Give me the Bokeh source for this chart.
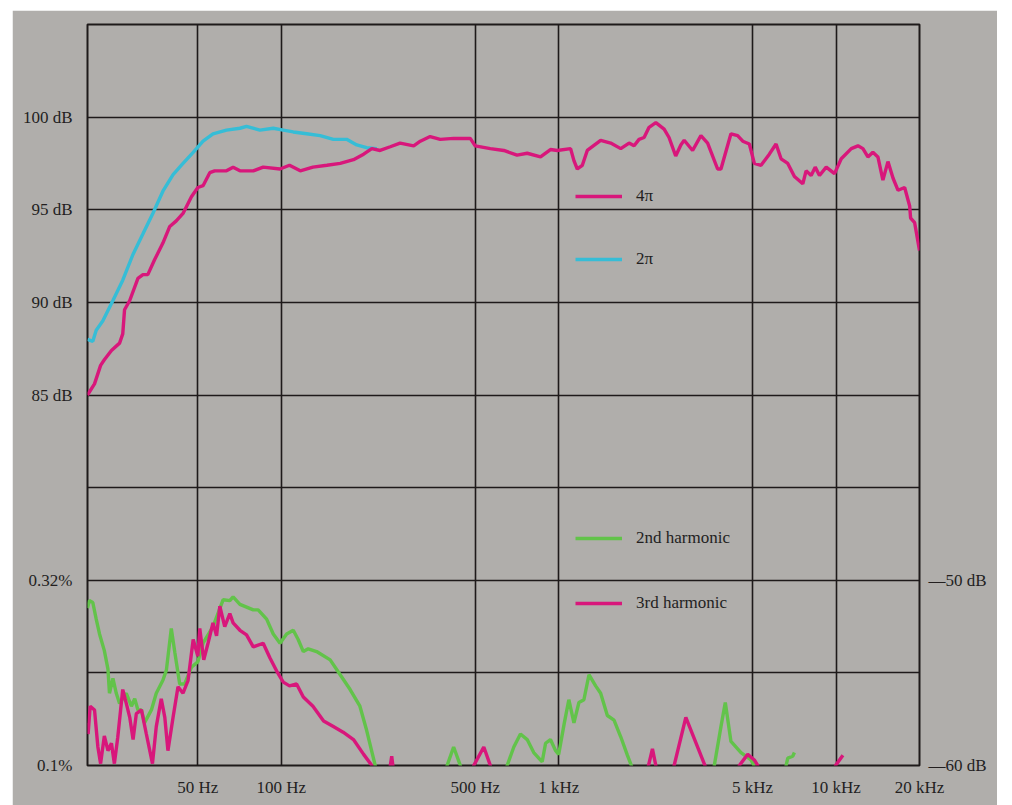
from bokeh.plotting import figure
from bokeh.models import Range1d, LinearAxis, FixedTicker, Legend, LegendItem
from bokeh.embed import file_html
from bokeh.resources import INLINE

# ---------------- data ----------------
X_TICKS = [50, 100, 500, 1000, 5000, 10000, 20000]
X_LABELS = ["50 Hz", "100 Hz", "500 Hz", "1 kHz", "5 kHz", "10 kHz", "20 kHz"]
X_GRID = [20, 50, 100, 500, 1000, 5000, 10000, 20000]

Y_TICKS = [100, 95, 90, 85, 75, 65]
Y_LABELS = ["100 dB", "95 dB", "90 dB", "85 dB", "0.32%", "0.1%"]
Y_GRID = [70, 75, 80, 85, 90, 95, 100]

R_TICKS = [-50, -60]
R_LABELS = ["\u201450 dB", "\u201460 dB"]

# Frequency response, 4 pi (full space)
HZ_4PI = [20, 21.2, 22.3, 23.0, 24.4, 26.1, 26.8, 27.2, 28.4, 30.4,
          31.7, 33.0, 34.9, 37.4, 39.6, 41.8, 44.2, 47.4, 50, 52.2,
          55.2, 57.5, 63.4, 67.0, 70.9, 79.2, 86.0, 98.9, 107, 117,
          130, 146, 163, 182, 198, 212, 227, 247, 268, 300,
          317, 344, 374, 418, 480, 500, 567, 634, 708, 770,
          860, 934, 988, 1104, 1135, 1167, 1217, 1268, 1417, 1540,
          1674, 1794, 1870, 1949, 2032, 2118, 2240, 2400, 2500, 2642,
          2757, 2835, 3040, 3257, 3444, 3742, 3847, 4180, 4418, 4610,
          4870, 5076, 5366, 5748, 6078, 6337, 6700, 7080, 7590, 7800,
          8135, 8414, 8718, 9218, 9878, 10443, 11350, 12000, 12504, 13032,
          13580, 14160, 14760, 15392, 16060, 16740, 17680, 18430, 18580, 19210,
          20000]
DB_4PI = [85.0, 85.6, 86.6, 86.9, 87.4, 87.8, 88.3, 89.6, 90.1, 91.3,
          91.5, 91.5, 92.3, 93.2, 94.1, 94.4, 94.8, 95.7, 96.2, 96.3,
          97.0, 97.1, 97.1, 97.3, 97.1, 97.1, 97.3, 97.2, 97.4, 97.1,
          97.3, 97.4, 97.5, 97.7, 98.0, 98.3, 98.2, 98.4, 98.6, 98.45,
          98.7, 98.95, 98.8, 98.85, 98.85, 98.45, 98.3, 98.2, 97.95, 98.05,
          97.85, 98.25, 98.2, 98.3, 97.65, 97.2, 97.4, 98.2, 98.75, 98.6,
          98.3, 98.6, 98.45, 98.8, 98.9, 99.45, 99.7, 99.35, 98.9, 97.9,
          98.5, 98.75, 98.2, 99.0, 98.6, 97.2, 97.2, 99.1, 99.0, 98.7,
          98.55, 97.5, 97.4, 98.0, 98.55, 97.75, 97.5, 96.8, 96.4, 97.1,
          96.85, 97.3, 96.85, 97.3, 96.95, 97.75, 98.3, 98.45, 98.3, 97.85,
          98.1, 97.85, 96.6, 97.6, 96.7, 96.05, 96.2, 95.2, 94.55, 94.3,
          92.8]

# Frequency response, 2 pi (half space)
HZ_2PI = [20, 20.9, 21.5, 22.7, 24.7, 26.8, 29.2, 31.7, 34.4, 37.4,
          40.7, 44.2, 48.1, 52.2, 56.7, 63.4, 70.9, 74.9, 83.7, 93.5,
          101.6, 110.4, 123.4, 138, 154, 172, 187, 203, 221]
DB_2PI = [88.0, 87.9, 88.5, 89.0, 90.1, 91.2, 92.6, 93.7, 94.8, 96.0,
          96.9, 97.5, 98.1, 98.7, 99.1, 99.3, 99.4, 99.5, 99.3, 99.4,
          99.3, 99.2, 99.1, 99.0, 98.8, 98.8, 98.5, 98.35, 98.3]

# 2nd harmonic distortion, dB re fundamental (values below -60 fall off the chart)
HZ_H2 = [20, 20.3, 20.9, 21.5, 22.1, 23.0, 23.7, 24.0, 24.7, 25.4,
         26.1, 27.6, 28.8, 29.6, 30.4, 31.3, 32.1, 34.0, 35.4, 37.4,
         38.5, 40.1, 41.3, 43.0, 44.8, 47.4, 50, 52.2, 56.7, 61.7,
         65.2, 67.0, 70.9, 79.2, 82.5, 88.5, 93.5, 98.9, 104.5, 110.4,
         115, 120, 125, 134, 150, 163, 177, 192, 203, 218,
         227, 380, 396, 418, 442, 460, 620, 652, 689, 728,
         770, 813, 872, 897, 934, 975, 1000, 1048, 1088, 1135,
         1183, 1233, 1286, 1359, 1417, 1498, 1583, 1674, 1770, 1828,
         1977, 3420, 3640, 3847, 3988, 4180, 4543, 4937, 5060, 5460,
         6337, 6608, 6700, 6980, 7080]
DB_H2 = [-51.5, -51.1, -51.2, -52.1, -52.9, -53.8, -54.8, -56.1, -55.3, -56.1,
         -56.65, -56.1, -56.8, -56.4, -57.0, -57.0, -57.7, -57.0, -56.1, -55.4,
         -54.85, -52.6, -53.9, -55.6, -55.6, -54.7, -54.4, -53.4, -52.5, -51.05,
         -51.1, -50.9, -51.3, -51.6, -51.6, -52.1, -52.9, -53.4, -52.9, -52.7,
         -53.2, -53.85, -53.7, -53.85, -54.3, -55.1, -55.9, -56.8, -58.1, -60.0,
         -62, -62, -60.0, -59.0, -60.0, -62, -62, -60.0, -59.0, -58.3,
         -58.6, -59.3, -59.8, -58.8, -58.6, -59.2, -59.4, -57.7, -56.45, -57.7,
         -56.6, -56.45, -55.1, -55.7, -56.1, -57.3, -57.55, -58.45, -59.45, -60.0,
         -62, -62, -60.0, -57.9, -56.6, -58.7, -59.3, -59.7, -60.0, -62,
         -62, -60.0, -59.6, -59.5, -59.3]

# 3rd harmonic distortion, dB re fundamental
HZ_H3 = [20, 20.1, 20.45, 21.2, 21.8, 22.3, 23.0, 23.7, 24.4, 25.0,
         25.7, 26.8, 27.6, 28.4, 29.2, 30.0, 31.3, 32.6, 34.3, 35.4,
         36.9, 38.0, 39.0, 40.7, 42.4, 44.2, 46.1, 48.1, 50, 50.8,
         52.5, 54.4, 56.7, 58.4, 60.0, 62.5, 65.2, 67.0, 70.9, 74.9,
         79.2, 86.0, 91.0, 96.2, 101.6, 107, 113.5, 120, 130, 142,
         154, 167, 182, 198, 212, 227, 236, 250, 262, 480,
         494, 537, 567, 590, 2050, 2108, 2178, 2240, 2290, 2530,
         2608, 2874, 3368, 3480, 4330, 4480, 4804, 5076, 5220, 5400,
         9600, 9960, 10590]
DB_H3 = [-57.7, -58.3, -56.8, -57.0, -59.0, -59.9, -58.4, -59.2, -58.8, -59.9,
         -58.5, -55.9, -56.65, -57.4, -58.6, -57.2, -57.0, -58.3, -59.9, -57.9,
         -56.4, -57.4, -59.2, -57.4, -55.75, -56.1, -55.4, -53.2, -54.1, -52.6,
         -54.3, -53.4, -52.3, -53.0, -51.4, -52.5, -51.8, -52.3, -52.7, -52.95,
         -53.6, -53.4, -54.2, -54.9, -55.5, -55.7, -55.6, -56.3, -56.8, -57.6,
         -57.9, -58.2, -58.6, -59.4, -60.0, -62, -62, -59.5, -62, -62,
         -60.0, -59.0, -60.0, -62, -62, -60.0, -59.1, -60.0, -62, -62,
         -60.0, -57.4, -60.0, -62, -62, -60.0, -59.4, -59.7, -60.0, -62,
         -62, -60.0, -59.45]

# ---------------- styling ----------------
BG = "#b0aeab"
INK = "#231f1f"
GRID = "#1e1a1a"
MAGENTA = "#d8177b"
CYAN = "#36bdd6"
GREEN = "#62c34a"
FONT = "Liberation Serif"
FS = "17px"

p = figure(width=985, height=795, x_axis_type="log",
           x_range=Range1d(20, 20000), y_range=Range1d(65, 105),
           output_backend="svg", toolbar_location=None,
           min_border_left=75, min_border_right=78,
           min_border_top=14, min_border_bottom=40)
p.margin = (10, 0, 0, 12)
p.extra_y_ranges = {"dist": Range1d(-60, -20)}

p.background_fill_color = BG
p.border_fill_color = BG
p.outline_line_color = GRID
p.outline_line_width = 2

p.xgrid.ticker = FixedTicker(ticks=X_GRID)
p.ygrid.ticker = FixedTicker(ticks=Y_GRID)
for g in (p.xgrid, p.ygrid):
    g.grid_line_color = GRID
    g.grid_line_width = 1.6
    g.minor_grid_line_color = None

xa = p.xaxis[0]
xa.ticker = FixedTicker(ticks=X_TICKS)
xa.major_label_overrides = dict(zip(X_TICKS, X_LABELS))
xa.major_label_standoff = 6

ya = p.yaxis[0]
ya.ticker = FixedTicker(ticks=Y_TICKS)
ya.major_label_overrides = dict(zip(Y_TICKS, Y_LABELS))
ya.major_label_standoff = 9

ra = LinearAxis(y_range_name="dist", ticker=FixedTicker(ticks=R_TICKS),
                major_label_overrides=dict(zip(R_TICKS, R_LABELS)))
ra.major_label_standoff = 3
p.add_layout(ra, "right")

for ax in (xa, ya, ra):
    ax.axis_line_color = None
    ax.major_tick_line_color = None
    ax.minor_tick_line_color = None
    ax.major_label_text_font = FONT
    ax.major_label_text_font_size = FS
    ax.major_label_text_color = INK

LW = 3.4
r2 = p.line(HZ_2PI, DB_2PI, line_color=CYAN, line_width=LW)
r4 = p.line(HZ_4PI, DB_4PI, line_color=MAGENTA, line_width=LW)
rh2 = p.line(HZ_H2, DB_H2, line_color=GREEN, line_width=LW, y_range_name="dist")
rh3 = p.line(HZ_H3, DB_H3, line_color=MAGENTA, line_width=LW, y_range_name="dist")


def make_legend(items, loc, spacing):
    lg = Legend(items=items, location=loc, orientation="vertical",
                glyph_width=47, glyph_height=20, label_height=20,
                spacing=spacing, padding=0, margin=0, label_standoff=14,
                border_line_color=None, background_fill_alpha=0,
                label_text_font=FONT, label_text_font_size=FS,
                label_text_color=INK)
    return lg


leg1 = make_legend([LegendItem(label="4\u03c0", renderers=[r4]),
                    LegendItem(label="2\u03c0", renderers=[r2])], (488, 496), 43)
leg2 = make_legend([LegendItem(label="2nd harmonic", renderers=[rh2]),
                    LegendItem(label="3rd harmonic", renderers=[rh3])], (488, 152), 45)
p.add_layout(leg1)
p.add_layout(leg2)

open("out.html", "w").write(file_html(p, INLINE))
